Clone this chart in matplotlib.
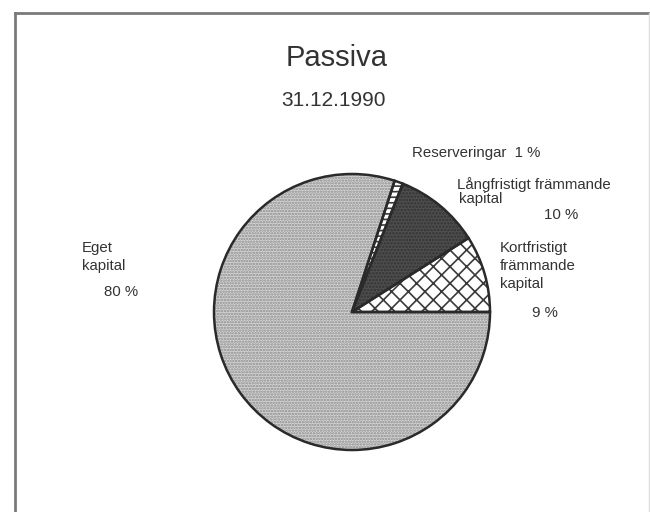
import matplotlib
matplotlib.use('Agg')
import matplotlib.pyplot as plt
from matplotlib.lines import Line2D

# data
names = ['Kortfristigt främmande kapital', 'Långfristigt främmande kapital',
         'Reserveringar', 'Eget kapital']
shares = [9, 10, 1, 80]
title = 'Passiva'
subtitle = '31.12.1990'

plt.rcParams['font.family'] = ['Liberation Sans', 'DejaVu Sans']
plt.rcParams['hatch.linewidth'] = 1.2

W, H = 650, 512
fig = plt.figure(figsize=(6.5, 5.12), dpi=100)
fig.patch.set_facecolor('white')

def px(x, y):
    return x / W, 1 - y / H

# frame of the scanned page
fcol = '#7a7a7a'
fig.add_artist(Line2D([15 / W, 15 / W], [0, 1 - 13 / H], transform=fig.transFigure, color=fcol, lw=2))
fig.add_artist(Line2D([15 / W, 649 / W], [1 - 13 / H, 1 - 13 / H], transform=fig.transFigure, color=fcol, lw=2))
fig.add_artist(Line2D([649 / W, 649 / W], [0, 1 - 13 / H], transform=fig.transFigure, color='#dddddd', lw=1))

# pie axes: centre (352, 312), radius 138 px
cx, cy, r = 352, 312, 138
ax = fig.add_axes([(cx - r) / W, (H - cy - r) / H, 2 * r / W, 2 * r / H])

faces = ['white', '#4e4e4e', 'white', '#d6d6d6']
hatches = ['xx', '.....', '---', '......']
hcols = ['#3a3a3a', '#333333', '#3a3a3a', '#8a8a8a']

wedges, _ = ax.pie(shares, startangle=0, counterclock=True, radius=1,
                   wedgeprops=dict(linewidth=0))
for w, f, h, c in zip(wedges, faces, hatches, hcols):
    w.set_facecolor(f)
    w.set_hatch(h)
    w.set_edgecolor(c)

outline, _ = ax.pie(shares, startangle=0, counterclock=True, radius=1,
                    wedgeprops=dict(facecolor='none', edgecolor='#2a2a2a', linewidth=1.8))
ax.set_xlim(-1.0, 1.0)
ax.set_ylim(-1.0, 1.0)
ax.set_aspect('equal')
ax.axis('off')

tc = '#333333'
fig.text(*px(337, 58), title, ha='center', va='center', fontsize=21, color=tc)
fig.text(*px(334, 101), subtitle, ha='center', va='center', fontsize=15, color=tc)

fs = 10.8
fig.text(*px(412, 153), 'Reserveringar  ' + str(shares[2]) + ' %', va='center', fontsize=fs, color=tc)
fig.text(*px(457, 185), 'Långfristigt främmande', va='center', fontsize=fs, color=tc)
fig.text(*px(459, 199), 'kapital', va='center', fontsize=fs, color=tc)
fig.text(*px(544, 215), str(shares[1]) + ' %', va='center', fontsize=fs, color=tc)
fig.text(*px(500, 248), 'Kortfristigt', va='center', fontsize=fs, color=tc)
fig.text(*px(500, 266), 'främmande', va='center', fontsize=fs, color=tc)
fig.text(*px(500, 284), 'kapital', va='center', fontsize=fs, color=tc)
fig.text(*px(532, 313), str(shares[0]) + ' %', va='center', fontsize=fs, color=tc)
fig.text(*px(82, 248), 'Eget', va='center', fontsize=fs, color=tc)
fig.text(*px(82, 266), 'kapital', va='center', fontsize=fs, color=tc)
fig.text(*px(104, 292), str(shares[3]) + ' %', va='center', fontsize=fs, color=tc)

fig.savefig('out.png', dpi=100, facecolor='white')
